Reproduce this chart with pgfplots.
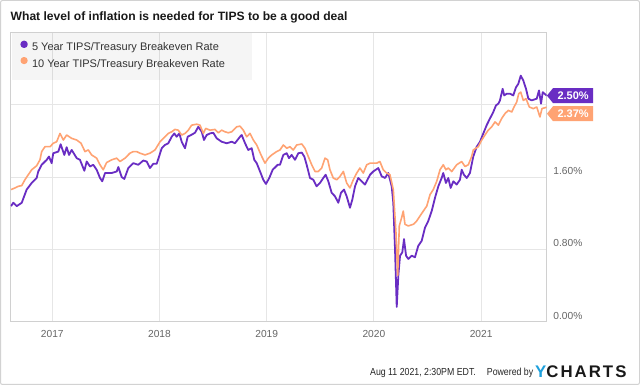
\documentclass[border=0pt]{standalone}
\usepackage{pgfplots}
\pgfplotsset{compat=1.18}
\usepackage{fontspec}
\setmainfont{Liberation Sans}
\newfontfamily\condfont{Liberation Sans}[FakeStretch=0.86]
\newfontfamily\logofont{Liberation Sans}[LetterSpace=12]
\usetikzlibrary{shapes.symbols}
\definecolor{fivey}{RGB}{105,45,195}
\definecolor{teny}{RGB}{255,163,115}
\definecolor{gridc}{RGB}{230,230,230}
\definecolor{axisc}{RGB}{208,208,208}
\definecolor{labc}{RGB}{102,102,102}
\definecolor{ybl}{RGB}{30,160,220}
\definecolor{framec}{RGB}{210,210,210}
\begin{document}
\begin{tikzpicture}[x=1pt,y=1pt]
\path[use as bounding box] (0,0) rectangle (640,385);
\fill[white] (0,0) rectangle (640,385);
\draw[framec, line width=1pt, rounded corners=2pt] (0.5,0.5) rectangle (639.5,384.5);
\node[anchor=base west, inner sep=0pt, font=\fontsize{12.1}{14}\selectfont\bfseries, text=black!90] at (10.5,364.3) {What level of inflation is needed for TIPS to be a good deal};
\begin{axis}[
  at={(10.7pt,63.3pt)}, anchor=south west, scale only axis,
  width=536pt, height=289.4pt,
  xmin=2016.612, xmax=2021.612, ymin=0, ymax=3.2,
  xtick={2017,2018,2019,2020,2021},
  xticklabels={2017,2018,2019,2020,2021},
  ytick={0,0.8,1.6,2.4,3.2},
  yticklabels={0.00\%,0.80\%,1.60\%,{},{}},
  yticklabel pos=right,
  major tick length=0pt,
  grid=major,
  major grid style={gridc, line width=0.8pt},
  axis line style={axisc, line width=0.8pt},
  tick label style={font=\fontsize{10.2}{12}\selectfont, text=labc},
  xticklabel style={anchor=center, inner sep=0pt, yshift=-11.8pt},
  yticklabel style={anchor=west, inner sep=0pt, xshift=6.5pt, yshift=6pt},
  legend image code/.code={\fill[#1] (0pt,3.9pt) circle (2.8pt);},
  legend cell align=left,
  legend style={at={(0.00187,0.9965)}, anchor=north west, draw=none, fill=none,
    inner xsep=8.5pt, inner ysep=7.1pt, column sep=4.2pt, row sep=3.5pt,
    nodes={inner sep=0pt, text height=8pt, text depth=2.5pt,
      font=\fontsize{11}{13}\selectfont, text=black!80}},
]
\fill[black, fill opacity=0.04] (rel axis cs:0.00187,0.9965) rectangle (rel axis cs:0.4496,0.8352);
\addplot[fivey, line width=1.8pt, line join=round] coordinates {
(2016.615,1.278) (2016.636,1.315) (2016.668,1.278) (2016.715,1.315) (2016.761,1.461)
(2016.808,1.534) (2016.854,1.589) (2016.869,1.661) (2016.901,1.735) (2016.948,1.790)
(2016.969,1.826) (2016.994,1.753) (2017.009,1.863) (2017.056,1.881) (2017.078,1.962)
(2017.112,1.844) (2017.134,1.929) (2017.156,1.844) (2017.181,1.899) (2017.228,1.808)
(2017.258,1.790) (2017.299,1.669) (2017.321,1.771) (2017.352,1.716) (2017.382,1.735)
(2017.414,1.680) (2017.445,1.589) (2017.466,1.552) (2017.492,1.644) (2017.554,1.644)
(2017.601,1.661) (2017.616,1.710) (2017.647,1.600) (2017.672,1.578) (2017.709,1.699)
(2017.756,1.753) (2017.802,1.735) (2017.849,1.782) (2017.881,1.771) (2017.911,1.699)
(2017.942,1.746) (2017.974,1.746) (2018.021,1.918) (2018.051,1.954) (2018.082,1.973)
(2018.114,2.045) (2018.138,2.082) (2018.160,2.045) (2018.185,2.082) (2018.207,1.990)
(2018.238,1.918) (2018.263,2.045) (2018.294,2.064) (2018.331,2.089) (2018.362,2.155)
(2018.394,2.100) (2018.415,2.009) (2018.440,2.064) (2018.471,2.082) (2018.502,2.089)
(2018.534,2.027) (2018.580,1.990) (2018.627,1.973) (2018.674,1.990) (2018.704,1.973)
(2018.751,2.045) (2018.767,2.064) (2018.798,1.973) (2018.828,1.899) (2018.860,1.918)
(2018.884,1.790) (2018.907,1.753) (2018.938,1.661) (2018.968,1.570) (2018.993,1.523)
(2019.024,1.589) (2019.056,1.680) (2019.103,1.735) (2019.124,1.735) (2019.155,1.844)
(2019.187,1.863) (2019.208,1.808) (2019.233,1.844) (2019.264,1.790) (2019.295,1.863)
(2019.327,1.870) (2019.351,1.826) (2019.373,1.735) (2019.404,1.589) (2019.435,1.570)
(2019.466,1.497) (2019.497,1.534) (2019.528,1.589) (2019.550,1.625) (2019.575,1.552)
(2019.606,1.425) (2019.637,1.387) (2019.668,1.315) (2019.693,1.425) (2019.721,1.461)
(2019.746,1.387) (2019.777,1.260) (2019.799,1.351) (2019.824,1.497) (2019.854,1.589)
(2019.886,1.552) (2019.917,1.516) (2019.964,1.625) (2019.994,1.661) (2020.041,1.699)
(2020.073,1.607) (2020.104,1.589) (2020.134,1.644) (2020.166,1.497) (2020.181,1.315)
(2020.197,0.803) (2020.213,0.164) (2020.228,0.511) (2020.244,0.730) (2020.265,0.767)
(2020.281,0.913) (2020.300,0.730) (2020.321,0.694) (2020.353,0.730) (2020.383,0.712)
(2020.414,0.839) (2020.446,0.894) (2020.477,1.041) (2020.507,1.113) (2020.539,1.223)
(2020.570,1.370) (2020.601,1.497) (2020.632,1.589) (2020.647,1.644) (2020.672,1.534)
(2020.694,1.589) (2020.716,1.479) (2020.741,1.552) (2020.772,1.516) (2020.803,1.570)
(2020.819,1.680) (2020.840,1.625) (2020.866,1.589) (2020.896,1.644) (2020.927,1.826)
(2020.959,1.935) (2020.990,1.990) (2021.021,2.082) (2021.052,2.173) (2021.083,2.247)
(2021.114,2.319) (2021.139,2.392) (2021.161,2.411) (2021.176,2.447) (2021.201,2.575)
(2021.216,2.502) (2021.239,2.521) (2021.270,2.521) (2021.300,2.502) (2021.326,2.593)
(2021.347,2.630) (2021.370,2.721) (2021.394,2.666) (2021.419,2.575) (2021.441,2.466)
(2021.472,2.447) (2021.519,2.466) (2021.540,2.557) (2021.559,2.411) (2021.575,2.538)
(2021.612,2.500)
};
\addlegendentry{5 Year TIPS/Treasury Breakeven Rate}
\addplot[teny, line width=1.6pt, line join=round] coordinates {
(2016.615,1.461) (2016.652,1.479) (2016.683,1.497) (2016.715,1.505) (2016.745,1.570)
(2016.776,1.625) (2016.808,1.680) (2016.854,1.724) (2016.885,1.790) (2016.901,1.881)
(2016.932,1.935) (2016.979,1.935) (2017.009,1.973) (2017.041,1.990) (2017.072,2.082)
(2017.103,2.009) (2017.134,2.064) (2017.181,2.027) (2017.228,2.009) (2017.268,1.973)
(2017.305,1.881) (2017.336,1.899) (2017.367,1.844) (2017.414,1.808) (2017.445,1.735)
(2017.475,1.680) (2017.507,1.760) (2017.554,1.790) (2017.601,1.808) (2017.631,1.771)
(2017.678,1.808) (2017.724,1.863) (2017.756,1.881) (2017.787,1.881) (2017.818,1.863)
(2017.865,1.844) (2017.911,1.863) (2017.958,1.899) (2018.005,1.990) (2018.051,2.045)
(2018.082,2.082) (2018.114,2.100) (2018.144,2.126) (2018.175,2.118) (2018.207,2.064)
(2018.238,2.082) (2018.269,2.118) (2018.300,2.173) (2018.347,2.184) (2018.378,2.173)
(2018.409,2.082) (2018.431,2.137) (2018.471,2.118) (2018.518,2.126) (2018.549,2.089)
(2018.580,2.118) (2018.611,2.100) (2018.642,2.089) (2018.674,2.100) (2018.720,2.155)
(2018.751,2.162) (2018.782,2.118) (2018.813,2.045) (2018.844,2.082) (2018.875,2.009)
(2018.907,1.954) (2018.947,1.844) (2018.984,1.753) (2019.015,1.808) (2019.047,1.844)
(2019.093,1.881) (2019.124,1.899) (2019.155,1.954) (2019.187,1.918) (2019.217,1.935)
(2019.248,1.899) (2019.280,1.954) (2019.327,1.965) (2019.357,1.918) (2019.388,1.826)
(2019.420,1.735) (2019.451,1.661) (2019.481,1.661) (2019.513,1.699) (2019.544,1.808)
(2019.569,1.790) (2019.590,1.680) (2019.621,1.589) (2019.653,1.570) (2019.684,1.607)
(2019.715,1.661) (2019.746,1.534) (2019.777,1.479) (2019.808,1.570) (2019.840,1.644)
(2019.870,1.699) (2019.901,1.644) (2019.933,1.735) (2019.964,1.753) (2019.994,1.753)
(2020.026,1.753) (2020.056,1.771) (2020.087,1.680) (2020.119,1.644) (2020.150,1.625)
(2020.181,1.461) (2020.206,0.986) (2020.222,0.511) (2020.237,1.059) (2020.259,1.151)
(2020.274,1.223) (2020.290,1.077) (2020.321,1.059) (2020.368,1.077) (2020.399,1.113)
(2020.430,1.168) (2020.461,1.223) (2020.493,1.278) (2020.524,1.406) (2020.554,1.461)
(2020.586,1.552) (2020.617,1.680) (2020.647,1.735) (2020.672,1.680) (2020.694,1.699)
(2020.726,1.660) (2020.772,1.735) (2020.819,1.771) (2020.850,1.716) (2020.881,1.735)
(2020.912,1.826) (2020.927,1.899) (2020.974,1.935) (2021.006,2.009) (2021.036,2.064)
(2021.067,2.118) (2021.099,2.155) (2021.130,2.209) (2021.161,2.173) (2021.192,2.247)
(2021.223,2.301) (2021.254,2.337) (2021.286,2.319) (2021.307,2.374) (2021.332,2.428)
(2021.351,2.521) (2021.370,2.538) (2021.394,2.447) (2021.419,2.466) (2021.450,2.374)
(2021.487,2.356) (2021.519,2.374) (2021.549,2.264) (2021.568,2.356) (2021.606,2.370)
(2021.612,2.370)
};
\addlegendentry{10 Year TIPS/Treasury Breakeven Rate}
\coordinate (p5) at (axis cs:2021.612,2.50);
\coordinate (p10) at (axis cs:2021.612,2.30);
\end{axis}
\node[signal, signal to=west, signal pointer angle=102, fill=fivey, text=white,
  font=\fontsize{11}{13}\selectfont\bfseries, inner xsep=4.5pt, inner ysep=0pt,
  minimum height=15pt, anchor=west] at (p5) {2.50\%};
\node[signal, signal to=west, signal pointer angle=102, fill=teny, text=white,
  font=\fontsize{11}{13}\selectfont\bfseries, inner xsep=4.5pt, inner ysep=0pt,
  minimum height=15pt, anchor=west] at (p10) {2.37\%};
\node[anchor=base west, inner sep=0pt, font=\condfont\fontsize{10.2}{12}\selectfont, text=black!85] at (370,9.3) {Aug 11 2021, 2:30PM EDT.};
\node[anchor=base west, inner sep=0pt, font=\condfont\fontsize{10.2}{12}\selectfont, text=black!85] at (486.7,9.3) {Powered by};
\node[anchor=base west, inner sep=0pt, font=\logofont\fontsize{16.8}{18}\selectfont\bfseries, text=black!90] at (535,7.7) {\textcolor{ybl}{Y}CHARTS};
\end{tikzpicture}
\end{document}
